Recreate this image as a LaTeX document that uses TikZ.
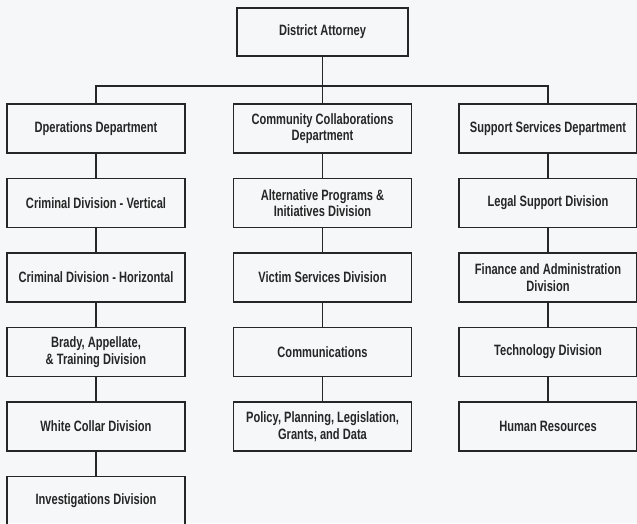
\documentclass[tikz,border=0pt]{standalone}
\usepackage{fontspec}
\setmainfont{Liberation Sans}[FakeStretch=0.74]
\definecolor{inkgray}{RGB}{38,38,38}
\definecolor{paper}{RGB}{246,247,248}

\begin{document}
\begin{tikzpicture}[x=1pt,y=-1pt,
    unit/.style={draw=inkgray,line width=1.2pt,minimum width=178pt,minimum height=49pt,
      align=center,inner sep=2pt,text=inkgray,font=\fontsize{15}{16.5}\selectfont\bfseries},
    link/.style={draw=inkgray,line width=1.2pt}]
        \fill[paper] (0,0) rectangle (637,523);
        \useasboundingbox (0,0) rectangle (637,523);
        \node[unit,minimum width=171pt,minimum height=48pt] (da) at (322.5,32) {District Attorney};
        \coordinate (bus) at (322.5,86);
        \node[unit] (ops) at (96,128.5) {Dperations Department};
        \node[unit] (cv) at (96,203) {Criminal Division - Vertical};
        \node[unit] (ch) at (96,277.5) {Criminal Division - Horizontal};
        \node[unit] (brady) at (96,352) {Brady, Appellate,\\ \& Training Division};
        \node[unit] (wc) at (96,426.5) {White Collar Division};
        \node[unit] (inv) at (96,501) {Investigations Division};
        \node[unit] (cc) at (322.5,128.5) {Community Collaborations\\Department};
        \node[unit] (alt) at (322.5,203) {Alternative Programs \&\\Initiatives Division};
        \node[unit] (vs) at (322.5,277.5) {Victim Services Division};
        \node[unit] (comm) at (322.5,352) {Communications};
        \node[unit] (policy) at (322.5,426.5) {Policy, Planning, Legislation,\\Grants, and Data};
        \node[unit] (ss) at (548,128.5) {Support Services Department};
        \node[unit] (legal) at (548,203) {Legal Support Division};
        \node[unit] (fin) at (548,277.5) {Finance and Administration\\Division};
        \node[unit] (tech) at (548,352) {Technology Division};
        \node[unit] (hr) at (548,426.5) {Human Resources};
        \draw[link] (da) -- (cc);
        \draw[link] (ops.north) |- (bus) -| (ss.north);
        \foreach \a/\b in {ops/cv,cv/ch,ch/brady,brady/wc,wc/inv,cc/alt,alt/vs,vs/comm,comm/policy,ss/legal,legal/fin,fin/tech,tech/hr}
            \draw[link] (\a) -- (\b);
    \end{tikzpicture}
\end{document}
